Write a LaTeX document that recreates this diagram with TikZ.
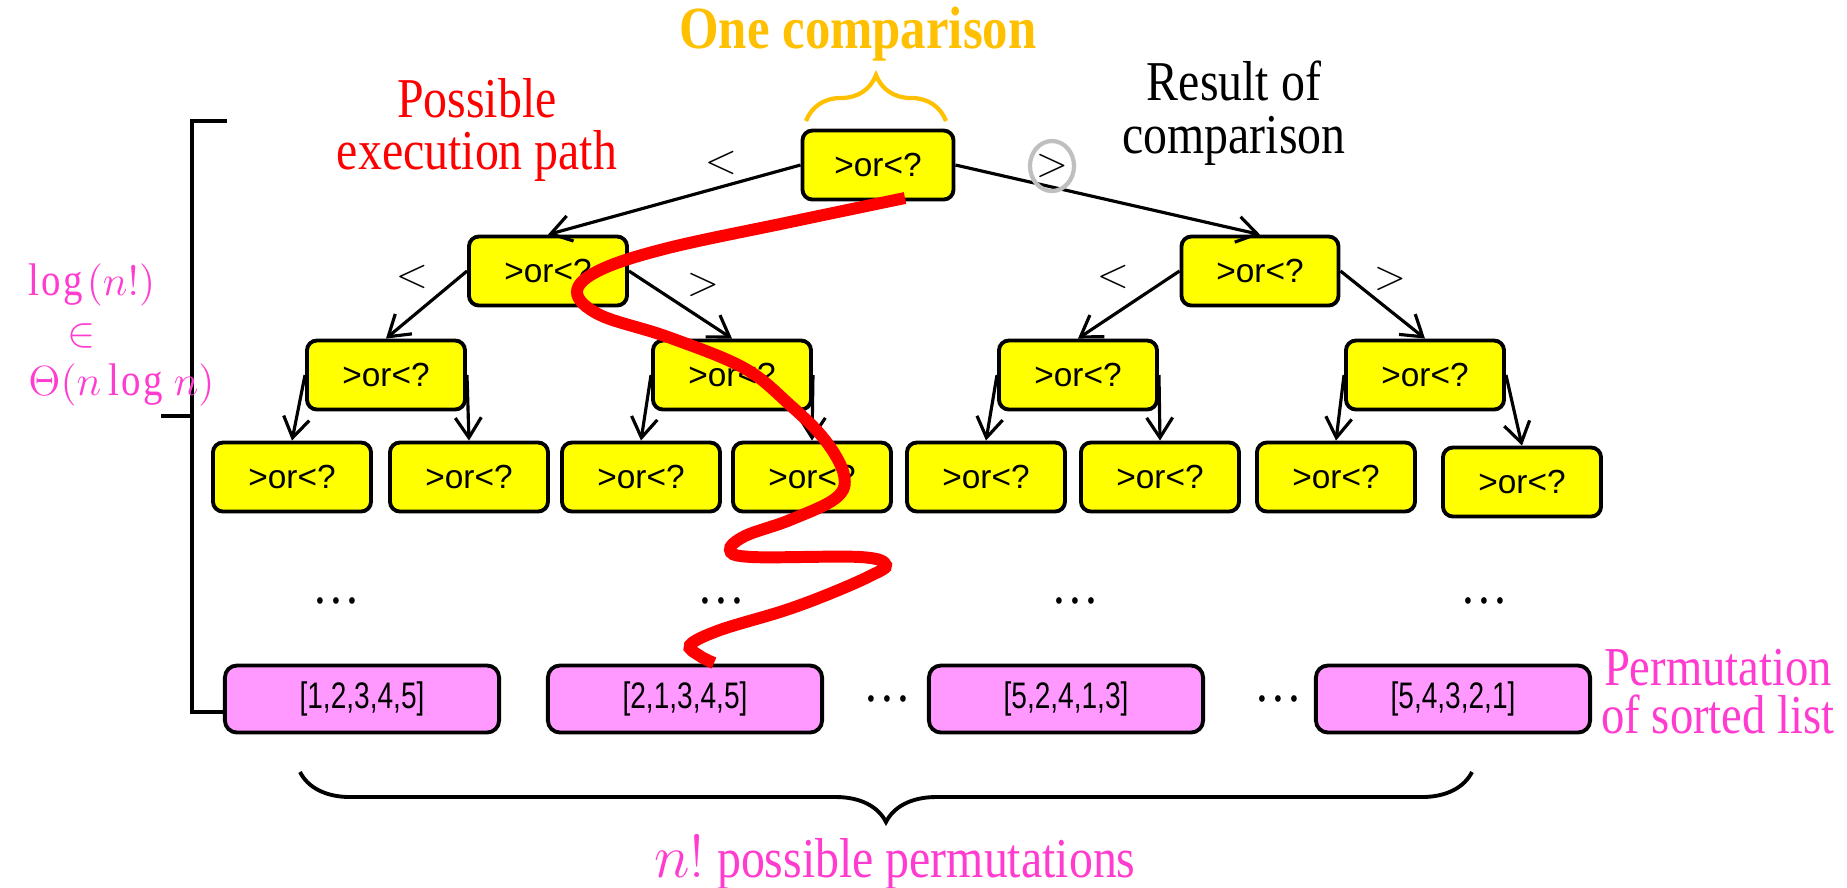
\documentclass[tikz,border=0pt]{standalone}
\usepackage{fontspec}
\setmainfont[FakeStretch=0.85]{Liberation Serif}
\newfontfamily\boxfont{Liberation Sans}
\newfontfamily\permfont[FakeStretch=0.76]{Liberation Sans}
\usetikzlibrary{arrows.meta,decorations.pathreplacing}
\definecolor{cmpyellow}{HTML}{FFFF00}
\definecolor{permpink}{HTML}{FF99FF}
\definecolor{notepink}{HTML}{FF3CCF}
\definecolor{braceorange}{HTML}{FFC000}
\definecolor{pathred}{HTML}{FF0000}

\begin{document}
\begin{tikzpicture}[x=0.01cm,y=-0.01cm,
	cmp/.style={draw,line width=1.1pt,rounded corners=0.1cm,fill=cmpyellow,
		minimum width=1.58cm,minimum height=0.69cm,inner sep=0pt,
		font=\boxfont\fontsize{9.5}{10}\selectfont},
	perm/.style={draw,line width=1.1pt,rounded corners=0.12cm,fill=permpink,
		minimum width=2.74cm,minimum height=0.67cm,inner sep=0pt,
		font=\permfont\fontsize{10.5}{11}\selectfont},
	arr/.style={line width=0.9pt,-{Straight Barb[length=2mm,width=2.6mm]}},
	res/.style={font=\fontsize{13}{14}\selectfont},
	big/.style={font=\fontsize{16}{15}\selectfont,align=center},
	note/.style={text=notepink,font=\fontsize{13}{14}\selectfont}]
\useasboundingbox (0,0) rectangle (1847,887);

	%the comparison tree
	\node[cmp,minimum width=1.51cm] (c) at (878,165) {>or<?};
	\node[cmp] (l) at (548,271) {>or<?};
	\node[cmp,minimum width=1.57cm] (r) at (1260,271) {>or<?};
	\node[cmp] (ll) at (386,375) {>or<?};
	\node[cmp] (lr) at (732,375) {>or<?};
	\node[cmp] (rl) at (1078,375) {>or<?};
	\node[cmp] (rr) at (1425,375) {>or<?};
	\foreach \x/\y [count=\i] in {292/477,469/477,641/477,812/477,986/477,1160/477,1336/477,1522/482}
		\node[cmp] (d\i) at (\x,\y) {>or<?};

	%branches
	\draw[arr] (c.west) -- (l.north);
	\draw[arr] (c.east) -- (r.north);
	\draw[arr] (l.west) -- (ll.north);
	\draw[arr] (l.east) -- (lr.north);
	\draw[arr] (r.west) -- (rl.north);
	\draw[arr] (r.east) -- (rr.north);
	\draw[arr] (ll.west) -- (d1.north);
	\draw[arr] (ll.east) -- (d2.north);
	\draw[arr] (lr.west) -- (d3.north);
	\draw[arr] (lr.east) -- (d4.north);
	\draw[arr] (rl.west) -- (d5.north);
	\draw[arr] (rl.east) -- (d6.north);
	\draw[arr] (rr.west) -- (d7.north);
	\draw[arr] (rr.east) -- (d8.north);

	%results on the branches
	\node[res] (c-lt) at (721,163) {$<$};
	\node[res] (c-gt) at (1052,166) {$>$};
	\node[res] (l-lt) at (412,277) {$<$};
	\node[res] (l-gt) at (703,285) {$>$};
	\node[res] (r-lt) at (1113,277) {$<$};
	\node[res] (r-gt) at (1390,279) {$>$};
	\draw[gray!50,line width=1.2pt] (c-gt) ellipse [x radius=0.22cm,y radius=0.25cm];

	%leaves
	\node (dots1) at (336,601) {\fontsize{16}{15}\selectfont\dots};
	\node (dots2) at (721,601) {\fontsize{16}{15}\selectfont\dots};
	\node (dots3) at (1075,601) {\fontsize{16}{15}\selectfont\dots};
	\node (dots4) at (1484,601) {\fontsize{16}{15}\selectfont\dots};
	\node[perm] (p1) at (362,699) {[1,2,3,4,5]};
	\node[perm] (p2) at (685,699) {[2,1,3,4,5]};
	\node[perm] (p3) at (1066,699) {[5,2,4,1,3]};
	\node[perm] (p4) at (1453,699) {[5,4,3,2,1]};
	\node (dots5) at (887,699) {\fontsize{16}{15}\selectfont\dots};
	\node (dots6) at (1278,699) {\fontsize{16}{15}\selectfont\dots};

	%height of the tree
	\draw[line width=1.1pt] (227,121) -- (192,121) -- (192,712) -- (p1.west |- 0,712);
	\draw[line width=1.1pt] (161,416) -- (192,416);
	\node[note,anchor=west] (h1) at (16,285) {$\mathrm{log}(n!)$};
	\node[note] (h2) at (82,336) {$\in$};
	\node[note,anchor=west] (h3) at (16,385) {$\Theta(n\log n)$};

	%captions
	\node[big,text=braceorange,font=\fontsize{17}{18}\selectfont\bfseries] (one) at (858,34) {One comparison};
	\draw[braceorange,line width=1.2pt,decorate,decoration={brace,amplitude=0.46cm}] (806,121) -- (946,121);
	\node[big,text=pathred] (poss) at (477,130) {Possible\\execution path};
	\node[big] (result) at (1234,113) {Result of\\comparison};
	\node[big,text=notepink,font=\fontsize{15.6}{13.6}\selectfont,inner sep=0pt] (permof) at (1718,692) {Permutation\\of sorted list};
	\draw[line width=1.1pt,decorate,decoration={brace,amplitude=0.5cm}] (1472,772) -- (300,772);
	\node[big,text=notepink] (nfact) at (895,862) {$n!$ possible permutations};

	%one run through the tree
	\draw[pathred,line width=3.4pt] plot[smooth,tension=0.6] coordinates {
		(905,198) (790,222) (668,248) (600,270) (577,292) (600,315) (668,337)
		(744,368) (790,405) (825,440) (844,475) (836,498) (790,520) (745,536)
		(730,550) (752,557) (860,557) (886,565) (870,576) (829,594) (783,611)
		(720,630) (690,645) (700,656) (714,663)};
\end{tikzpicture}
\end{document}
